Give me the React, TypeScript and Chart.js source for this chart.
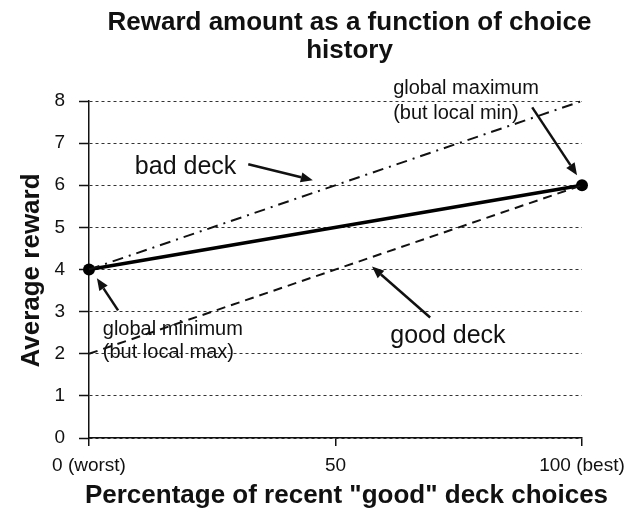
import React, { useEffect, useRef } from "react";
import { Chart, registerables } from "chart.js";

Chart.register(...registerables);

const xTicks = [0, 50, 100];
const xTickLabels = ["0 (worst)", "50", "100 (best)"];
const yTicks = [0, 1, 2, 3, 4, 5, 6, 7, 8];
const choicePercent = [0, 100];
const averageReward = [4, 6];
const badDeckReward = [4, 8];
const goodDeckReward = [2, 6];

const titleLines = ["Reward amount as a function of choice", "history"];
const xTitle = 'Percentage of recent "good" deck choices';
const yTitle = "Average reward";

// annotation texts in data coordinates
const labels = [
  { text: "bad deck", x: 9.3, y: 6.42, size: 25 },
  { text: "good deck", x: 61.1, y: 2.43, size: 25 },
  { text: "global maximum", x: 61.7, y: 8.3, size: 20 },
  { text: "(but local min)", x: 61.7, y: 7.71, size: 20 },
  { text: "global minimum", x: 2.8, y: 2.58, size: 20 },
  { text: "(but local max)", x: 2.8, y: 2.03, size: 20 },
];
const arrows = [
  { from: [32.3, 6.5], to: [45.4, 6.12] },
  { from: [69.2, 2.86], to: [57.4, 4.07] },
  { from: [89.9, 7.85], to: [99.0, 6.24] },
  { from: [5.9, 3.03], to: [1.6, 3.79] },
];

const FONT = "'Liberation Sans', Arial, Helvetica, sans-serif";

const toPoints = (ys: number[]) => ys.map((y, i) => ({ x: choicePercent[i], y }));

const annotationPlugin = {
  id: "annotations",
  afterDraw(chart: any) {
    const ctx = chart.ctx as CanvasRenderingContext2D;
    const xs = chart.scales.x;
    const ys = chart.scales.y;
    const area = chart.chartArea;
    const cx = (area.left + area.right) / 2;
    ctx.save();
    ctx.fillStyle = "#111";
    ctx.strokeStyle = "#111";
    // title
    ctx.font = `bold 26px ${FONT}`;
    ctx.textAlign = "center";
    ctx.textBaseline = "middle";
    ctx.fillText(titleLines[0], cx + 14, 15);
    ctx.fillText(titleLines[1], cx + 14, 43);
    // x title
    ctx.font = `bold 26px ${FONT}`;
    ctx.fillText(xTitle, cx + 11, 488);
    // y title
    ctx.save();
    ctx.translate(24, (area.top + area.bottom) / 2 + 1);
    ctx.rotate(-Math.PI / 2);
    ctx.fillText(yTitle, 0, 0);
    ctx.restore();
    // labels
    ctx.textAlign = "left";
    labels.forEach((l) => {
      ctx.font = `${l.size}px ${FONT}`;
      ctx.fillText(l.text, xs.getPixelForValue(l.x), ys.getPixelForValue(l.y));
    });
    // arrows
    arrows.forEach((a) => {
      const x1 = xs.getPixelForValue(a.from[0]);
      const y1 = ys.getPixelForValue(a.from[1]);
      const x2 = xs.getPixelForValue(a.to[0]);
      const y2 = ys.getPixelForValue(a.to[1]);
      const ang = Math.atan2(y2 - y1, x2 - x1);
      const head = 12;
      const bx = x2 - head * Math.cos(ang);
      const by = y2 - head * Math.sin(ang);
      ctx.lineWidth = 2.5;
      ctx.setLineDash([]);
      ctx.beginPath();
      ctx.moveTo(x1, y1);
      ctx.lineTo(bx, by);
      ctx.stroke();
      ctx.beginPath();
      ctx.moveTo(x2, y2);
      ctx.lineTo(bx + 5 * Math.sin(ang), by - 5 * Math.cos(ang));
      ctx.lineTo(bx - 5 * Math.sin(ang), by + 5 * Math.cos(ang));
      ctx.closePath();
      ctx.fill();
    });
    ctx.restore();
  },
};

export default function App() {
  const ref = useRef<HTMLCanvasElement | null>(null);
  useEffect(() => {
    if (!ref.current) return;
    const chart = new Chart(ref.current, {
      type: "line",
      data: {
        datasets: [
          {
            label: "bad deck",
            data: toPoints(badDeckReward),
            borderColor: "#111",
            borderWidth: 2,
            borderDash: [11, 6, 2, 6],
            pointRadius: 0,
            fill: false,
            clip: false,
          },
          {
            label: "good deck",
            data: toPoints(goodDeckReward),
            borderColor: "#111",
            borderWidth: 2,
            borderDash: [9, 6],
            pointRadius: 0,
            fill: false,
            clip: false,
          },
          {
            label: "average",
            data: toPoints(averageReward),
            borderColor: "#000",
            backgroundColor: "#000",
            borderWidth: 3.5,
            pointRadius: 6,
            pointBackgroundColor: "#000",
            pointBorderWidth: 0,
            fill: false,
            clip: false,
          },
        ],
      },
      options: {
        animation: false,
        responsive: true,
        maintainAspectRatio: false,
        layout: { padding: { top: 93, right: 54, left: 0, bottom: 0 } },
        plugins: {
          legend: { display: false },
          tooltip: { enabled: false },
          title: { display: false },
        },
        scales: {
          x: {
            type: "linear",
            min: 0,
            max: 100,
            afterBuildTicks: (s: any) => {
              s.ticks = xTicks.map((v) => ({ value: v }));
            },
            afterFit: (s: any) => {
              s.height = 72;
            },
            ticks: {
              color: "#111",
              font: { family: FONT, size: 19 },
              padding: 8,
              maxRotation: 0,
              autoSkip: false,
              callback: (v: any) => {
                const i = xTicks.indexOf(Number(v));
                return i >= 0 ? xTickLabels[i] : "";
              },
            },
            grid: {
              drawOnChartArea: false,
              drawTicks: true,
              tickLength: 8,
              color: "#111",
              lineWidth: 1.5,
            },
            border: { display: true, color: "#111", width: 1.5 },
          },
          y: {
            min: 0,
            max: 8,
            afterBuildTicks: (s: any) => {
              s.ticks = yTicks.map((v) => ({ value: v }));
            },
            afterFit: (s: any) => {
              s.width = 81;
            },
            ticks: {
              color: "#111",
              font: { family: FONT, size: 19 },
              padding: 14,
            },
            grid: {
              drawOnChartArea: true,
              drawTicks: true,
              tickLength: 10,
              color: "#333",
              lineWidth: 1,
              tickBorderDash: [1, 0],
              tickColor: "#111",
              tickWidth: 1.5,
            } as any,
            border: { display: true, color: "#111", width: 1.5, dash: [3, 3] },
          },
        },
      } as any,
      plugins: [annotationPlugin],
    });
    return () => chart.destroy();
  }, []);
  return (
    <div style={{ position: "relative", width: 628, height: 502 }}>
      <canvas ref={ref} />
    </div>
  );
}
